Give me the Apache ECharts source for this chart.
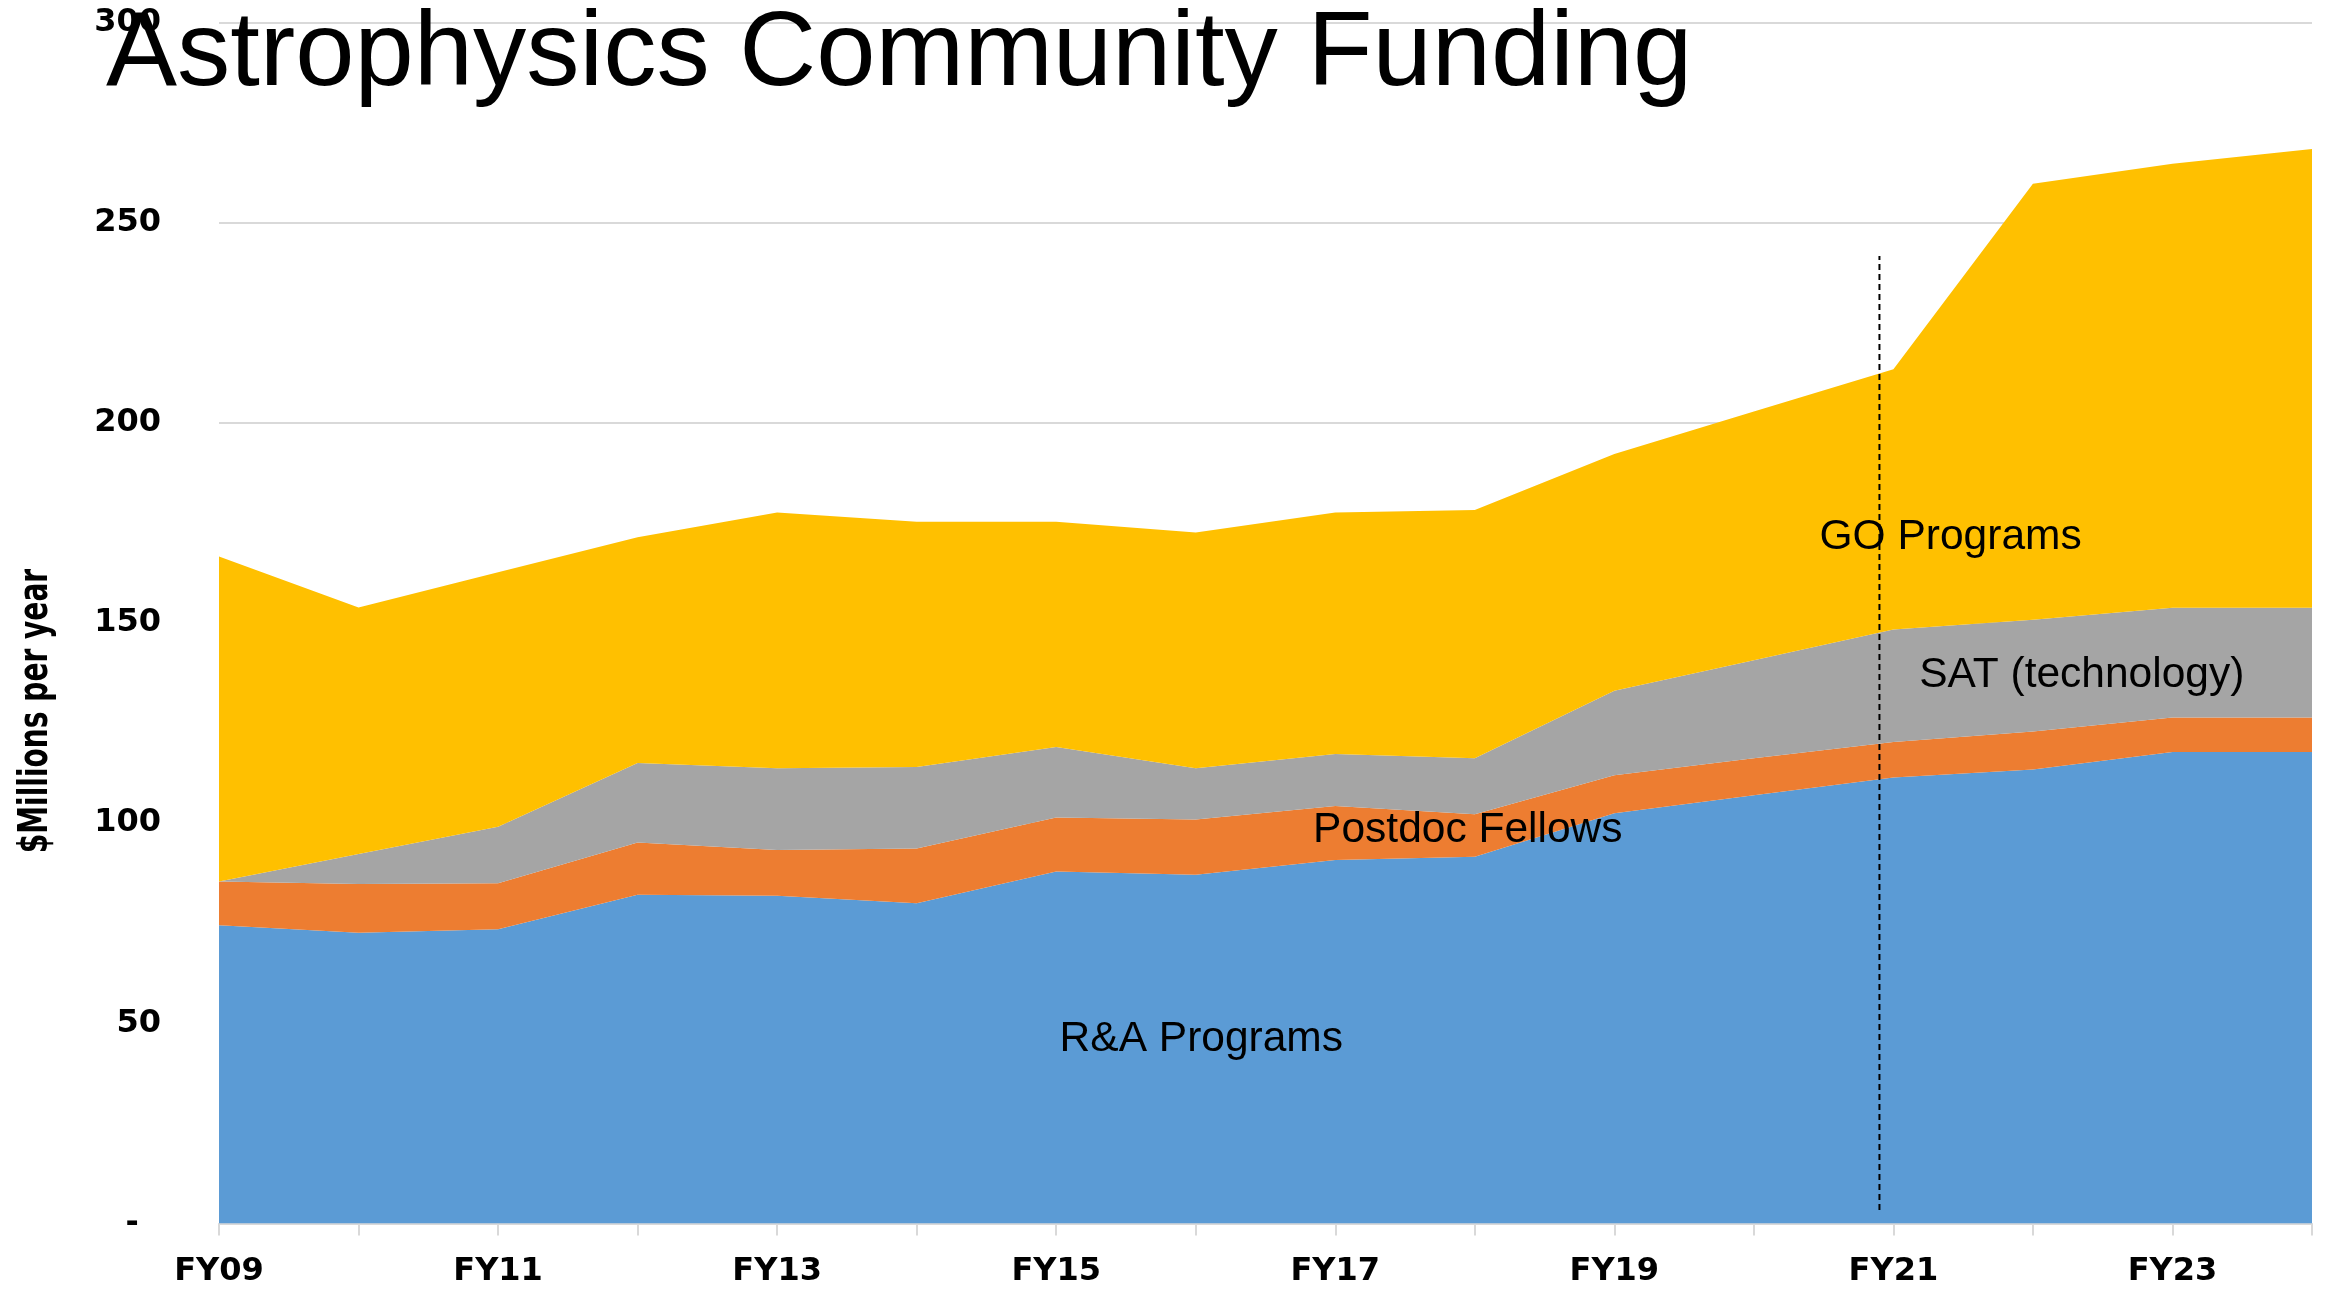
<!DOCTYPE html>
<html>
<head>
<meta charset="utf-8">
<style>
  html, body { margin: 0; padding: 0; background: #ffffff; }
  #chart { width: 2331px; height: 1297px; }
</style>
<script src="https://cdn.jsdelivr.net/npm/echarts@6/dist/echarts.min.js"></script>
</head>
<body>
<div id="chart"></div>
<script>
// ---- data ($M per year) ----
const categories = ['FY09','FY10','FY11','FY12','FY13','FY14','FY15','FY16','FY17','FY18','FY19','FY20','FY21','FY22','FY23','FY24'];
const raPrograms   = [74.5, 72.6, 73.5, 82.1, 81.9, 80.0, 87.9, 87.1, 90.8, 91.6, 102.5, 107.0, 111.4, 113.4, 117.8, 117.8];
const postdoc      = [10.9, 12.2, 11.5, 13.1, 11.4, 13.7, 13.5, 13.8, 13.5, 10.6, 9.5, 9.2, 8.9, 9.5, 8.6, 8.6];
const satTech      = [0.0, 7.5, 14.1, 19.8, 20.4, 20.3, 17.6, 12.8, 13.0, 14.0, 21.1, 24.5, 28.1, 27.9, 27.4, 27.4];
const goPrograms   = [81.2, 61.6, 63.6, 56.4, 63.9, 61.3, 56.3, 58.9, 60.3, 62.0, 59.1, 62.1, 65.0, 108.9, 110.9, 114.6];
const seriesNames  = ['R&A Programs', 'Postdoc Fellows', 'SAT (technology)', 'GO Programs'];
const yMin = 0, yMax = 300, yStep = 50;
const titleText = 'Astrophysics Community Funding';
const yAxisTitle = '$Millions per year';
// divider between actuals and projections: category-index position and value extent
const dividerAt = 11.90;
const dividerFrom = 3.4, dividerTo = 241.7;

const colors = ['#5B9BD5', '#ED7D31', '#A5A5A5', '#FFC000'];

const chart = echarts.init(document.getElementById('chart'), null, { renderer: 'canvas' });

function areaSeries(name, data, color) {
  return {
    name: name, type: 'line', stack: 'total', data: data,
    symbol: 'none', showSymbol: false, smooth: false,
    lineStyle: { width: 0, color: color },
    itemStyle: { color: color },
    areaStyle: { color: color, opacity: 1 },
    emphasis: { disabled: true },
    silent: true
  };
}

const option = {
  animation: false,
  backgroundColor: '#ffffff',
  title: {
    text: titleText,
    left: 101, top: -3,
    textStyle: { fontFamily: 'Liberation Sans, Arial, sans-serif', fontSize: 106.5, fontWeight: 'normal', color: '#000000' }
  },
  grid: { left: 219, right: 19, top: 22.5, bottom: 73.5, containLabel: false },
  xAxis: [
    {
      type: 'category', data: categories, boundaryGap: false,
      axisLine: { show: true, lineStyle: { color: '#d9d9d9', width: 2 } },
      axisTick: { show: true, interval: 0, length: 12, lineStyle: { color: '#d9d9d9', width: 2 } },
      axisLabel: { interval: 1, margin: 32, color: '#000000', fontFamily: 'DejaVu Sans, Verdana, sans-serif', fontWeight: 'bold', fontSize: 32 },
      splitLine: { show: false }
    },
    { type: 'value', min: 0, max: categories.length - 1, show: false }
  ],
  yAxis: {
    type: 'value', min: yMin, max: yMax, interval: yStep,
    axisLine: { show: false }, axisTick: { show: false },
    axisLabel: {
      margin: 58, color: '#000000', fontFamily: 'DejaVu Sans, Verdana, sans-serif', fontWeight: 'bold', fontSize: 32,
      formatter: function (v) { return v === 0 ? '-  ' : String(v); }
    },
    splitLine: { show: true, lineStyle: { color: '#d9d9d9', width: 2 } }
  },
  series: [
    areaSeries(seriesNames[0], raPrograms, colors[0]),
    areaSeries(seriesNames[1], postdoc, colors[1]),
    areaSeries(seriesNames[2], satTech, colors[2]),
    areaSeries(seriesNames[3], goPrograms, colors[3])
  ]
};
chart.setOption(option);

// annotation placements in data space (category index, $M)
const annotations = [
  { text: seriesNames[0], at: [7.04, 46.0] },
  { text: seriesNames[1], at: [8.95, 98.3] },
  { text: seriesNames[2], at: [13.35, 137.0] },
  { text: seriesNames[3], at: [12.41, 171.4] }
];
function px(x, y) {
  return [chart.convertToPixel({ xAxisIndex: 1 }, x), chart.convertToPixel({ yAxisIndex: 0 }, y)];
}
const graphics = annotations.map(function (a) {
  const p = px(a.at[0], a.at[1]);
  return {
    type: 'text', x: p[0], y: p[1], z: 100, silent: true,
    style: { text: a.text, fill: '#000000', font: '42.5px "Liberation Sans", Arial, sans-serif', textAlign: 'center', textVerticalAlign: 'middle' }
  };
});
const d0 = px(dividerAt, dividerFrom), d1 = px(dividerAt, dividerTo);
graphics.push({
  type: 'line', z: 90, silent: true,
  shape: { x1: d0[0], y1: d0[1], x2: d1[0], y2: d1[1] },
  style: { stroke: '#000000', lineWidth: 2, lineDash: [6, 4] }
});
const yMid = chart.convertToPixel({ yAxisIndex: 0 }, 128);
graphics.push({
  type: 'text', x: 37, y: yMid, rotation: Math.PI / 2, scaleX: 0.78, scaleY: 1, z: 100, silent: true,
  style: { text: yAxisTitle, fill: '#000000', font: 'bold 40px "Liberation Sans Narrow", "DejaVu Sans Condensed", sans-serif', textAlign: 'center', textVerticalAlign: 'middle' }
});
chart.setOption({ graphic: graphics });
</script>
</body>
</html>
